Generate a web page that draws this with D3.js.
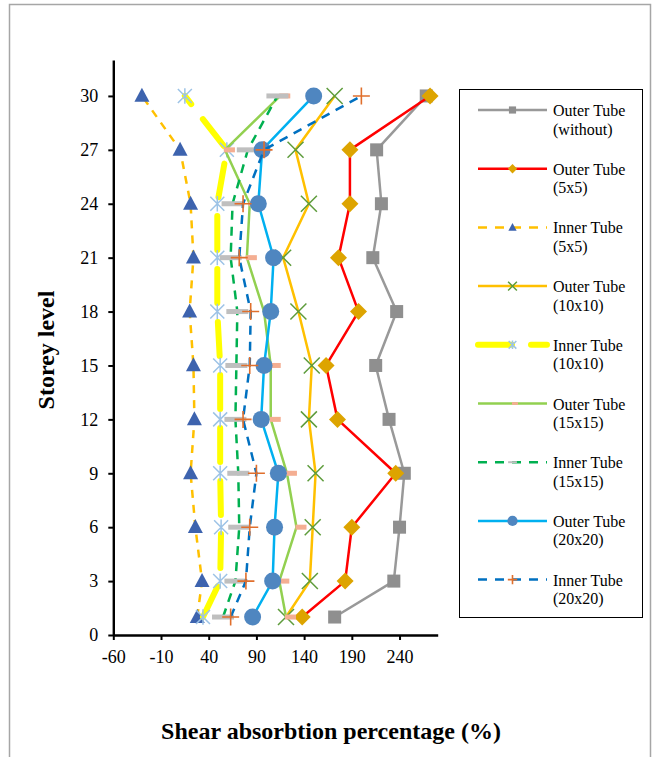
<!DOCTYPE html>
<html>
<head>
<meta charset="utf-8">
<script src="https://cdn.jsdelivr.net/npm/d3@7"></script>
<style>
  html, body { margin: 0; padding: 0; background: #fff; }
  svg { display: block; }
  svg text { font-family: "Liberation Serif", "Times New Roman", Tinos, "Nimbus Roman", Times, serif !important; }
</style>
</head>
<body>
<svg id="chart" width="654" height="757"></svg>
<script>
// ---------- data ----------
const storeys = [1, 3, 6, 9, 12, 15, 18, 21, 24, 27, 30];
const xTickValues = [-60, -10, 40, 90, 140, 190, 240];
const yTickValues = [0, 3, 6, 9, 12, 15, 18, 21, 24, 27, 30];

const outerWithout = [172, 234, 240, 245, 229, 215, 237, 212, 221, 216, 268];
const outer5 = [138, 183, 190, 236, 175, 163, 197, 176, 188, 188, 272];
const inner5 = [28, 33, 26, 21, 25, 24, 20, 24, 21, 10, -30];
const outer10 = [121, 146, 149, 152, 145, 148, 134, 118, 145, 131, 172];
const inner10 = [34, 52, 53, 52, 52, 52, 49, 49, 49, 59, 15];
const outer15 = [121, 114, 132, 122, 105, 105, 98, 80, 83, 57, 115];
const inner15 = [55, 68, 72, 71, 68, 69, 70, 63, 65, 81, 112];
const outer20 = [86, 107, 109, 113, 95, 98, 105, 108, 92, 96, 150];
const inner20 = [63, 79, 83, 90, 76, 83, 84, 72, 76, 98, 200];

const seriesNames = [
  ["Outer Tube", "(without)"],
  ["Outer Tube", "(5x5)"],
  ["Inner Tube", "(5x5)"],
  ["Outer Tube", "(10x10)"],
  ["Inner Tube", "(10x10)"],
  ["Outer Tube", "(15x15)"],
  ["Inner Tube", "(15x15)"],
  ["Outer Tube", "(20x20)"],
  ["Inner Tube", "(20x20)"]
];

// ---------- styles ----------
const styles = [
  { values: outerWithout, line: "#999999", width: 2.5, dash: null, cap: "butt", marker: "square", mcolor: "#8F8F8F" },
  { values: outer5, line: "#FF0000", width: 2.5, dash: null, cap: "butt", marker: "diamond", mcolor: "#DDA400" },
  { values: inner5, line: "#FFC000", width: 2.5, dash: "8,7", cap: "butt", marker: "triangle", mcolor: "#3D63AE" },
  { values: outer10, line: "#FFC000", width: 2.5, dash: null, cap: "butt", marker: "x", mcolor: "#5E9C3C" },
  { values: inner10, line: "#FFFF00", width: 6, dash: "34,19", cap: "round", marker: "star", mcolor: "#9DC3E6" },
  { values: outer15, line: "#92D050", width: 2.5, dash: null, cap: "butt", marker: "halfbar", mcolor: "#F4AE92" },
  { values: inner15, line: "#00B050", width: 2.5, dash: "9,7", cap: "butt", marker: "bar", mcolor: "#BFBFBF" },
  { values: outer20, line: "#00B0F0", width: 2.5, dash: null, cap: "butt", marker: "circle", mcolor: "#4F86C0" },
  { values: inner20, line: "#0070C0", width: 2.5, dash: "9,7", cap: "butt", marker: "plus", mcolor: "#E06F2C" }
];

// ---------- layout ----------
const svg = d3.select("#chart");
const x = d3.scaleLinear().domain([-60, 280]).range([113.3, 437.7]);
const y = d3.scaleLinear().domain([0, 32]).range([635, 60]);

// outer frame
svg.append("rect")
  .attr("x", 9.5).attr("y", 4.5).attr("width", 641).attr("height", 800)
  .attr("fill", "none").attr("stroke", "#A6A6A6").attr("stroke-width", 1.5);

function drawMarker(g, type, cx, cy, color, scale) {
  const s = scale || 1;
  if (type === "square") {
    const h = 6.5 * s;
    g.append("rect").attr("x", cx - h).attr("y", cy - h).attr("width", 2 * h).attr("height", 2 * h).attr("fill", color);
  } else if (type === "diamond") {
    const h = 8.5 * s;
    g.append("path").attr("d", `M${cx},${cy - h}L${cx + h},${cy}L${cx},${cy + h}L${cx - h},${cy}Z`).attr("fill", color);
  } else if (type === "triangle") {
    const w = 7.5 * s, h = 14 * s;
    g.append("path").attr("d", `M${cx},${cy - h * 0.58}L${cx + w},${cy + h * 0.42}L${cx - w},${cy + h * 0.42}Z`).attr("fill", color);
  } else if (type === "x") {
    const h = 8 * s;
    g.append("path").attr("d", `M${cx - h},${cy - h}L${cx + h},${cy + h}M${cx - h},${cy + h}L${cx + h},${cy - h}`)
      .attr("stroke", color).attr("stroke-width", 1.5).attr("fill", "none");
  } else if (type === "star") {
    const h = 7 * s;
    g.append("path").attr("d", `M${cx - h},${cy - h}L${cx + h},${cy + h}M${cx - h},${cy + h}L${cx + h},${cy - h}M${cx},${cy - h * 1.1}L${cx},${cy + h * 1.1}`)
      .attr("stroke", color).attr("stroke-width", 1.5).attr("fill", "none");
  } else if (type === "halfbar") {
    g.append("rect").attr("x", cx - 1 * s).attr("y", cy - 2.5 * s).attr("width", 11 * s).attr("height", 5 * s).attr("fill", color);
  } else if (type === "bar") {
    g.append("rect").attr("x", cx - 11 * s).attr("y", cy - 2.5 * s).attr("width", 22 * s).attr("height", 5 * s).attr("fill", color);
  } else if (type === "circle") {
    g.append("circle").attr("cx", cx).attr("cy", cy).attr("r", 8.5 * s).attr("fill", color);
  } else if (type === "plus") {
    const h = 8.5 * s;
    g.append("path").attr("d", `M${cx - h},${cy}L${cx + h},${cy}M${cx},${cy - h}L${cx},${cy + h}`)
      .attr("stroke", color).attr("stroke-width", 1.6).attr("fill", "none");
  }
}

// ---------- series ----------
const lineGen = d3.line().x(d => x(d.v)).y(d => y(d.s));
styles.forEach((st) => {
  const g = svg.append("g");
  const pts = storeys.map((s, i) => ({ s: s, v: st.values[i] }));
  const p = g.append("path").datum(pts).attr("d", lineGen)
    .attr("fill", "none").attr("stroke", st.line).attr("stroke-width", st.width)
    .attr("stroke-linecap", st.cap).attr("stroke-linejoin", "round");
  if (st.dash) p.attr("stroke-dasharray", st.dash);
  pts.forEach(d => drawMarker(g, st.marker, x(d.v), y(d.s), st.mcolor, 1));
});

// ---------- axes ----------
const xAxis = svg.append("g").attr("transform", `translate(0,${y(0)})`)
  .call(d3.axisBottom(x).tickValues(xTickValues).tickFormat(d => String(d)).tickSize(5).tickSizeOuter(0).tickPadding(10));
const yAxis = svg.append("g").attr("transform", `translate(${x(-60)},0)`)
  .call(d3.axisLeft(y).tickValues(yTickValues).tickFormat(d => String(d)).tickSize(5).tickSizeOuter(0).tickPadding(10));

[xAxis, yAxis].forEach(a => {
  a.attr("font-family", null);
  a.select(".domain").attr("stroke", "#000").attr("stroke-width", 2.4);
  a.selectAll(".tick line").attr("stroke", "#000").attr("stroke-width", 2);
  a.selectAll(".tick text").attr("font-size", 18).attr("fill", "#000");
});

// axis titles
svg.append("text").attr("x", 331).attr("y", 739).attr("text-anchor", "middle")
  .attr("font-weight", "bold").attr("font-size", 24).text("Shear absorbtion percentage (%)");
svg.append("text").attr("transform", "translate(54,350) rotate(-90)").attr("text-anchor", "middle")
  .attr("font-weight", "bold").attr("font-size", 24).text("Storey level");

// ---------- legend ----------
const lg = svg.append("g");
lg.append("rect").attr("x", 459.5).attr("y", 89.5).attr("width", 183).attr("height", 528)
  .attr("fill", "#fff").attr("stroke", "#000").attr("stroke-width", 1);
styles.forEach((st, i) => {
  const ly = 110 + i * 58.7;
  const l = lg.append("line").attr("x1", 478).attr("x2", 547).attr("y1", ly).attr("y2", ly)
    .attr("stroke", st.line).attr("stroke-width", st.width).attr("stroke-linecap", st.cap);
  if (st.dash) l.attr("stroke-dasharray", st.marker === "star" ? "34,19" : "9,8");
  drawMarker(lg, st.marker, 512.5, ly, st.mcolor, st.marker === "circle" ? 0.6 : (st.marker === "bar" ? 0.4 : 0.55));
  const t = lg.append("text").attr("x", 553).attr("y", ly + 6).attr("font-size", 16).attr("fill", "#000");
  t.append("tspan").attr("x", 553).attr("dy", 0).text(seriesNames[i][0]);
  t.append("tspan").attr("x", 553).attr("dy", 18.5).text(seriesNames[i][1]);
});
</script>
</body>
</html>
